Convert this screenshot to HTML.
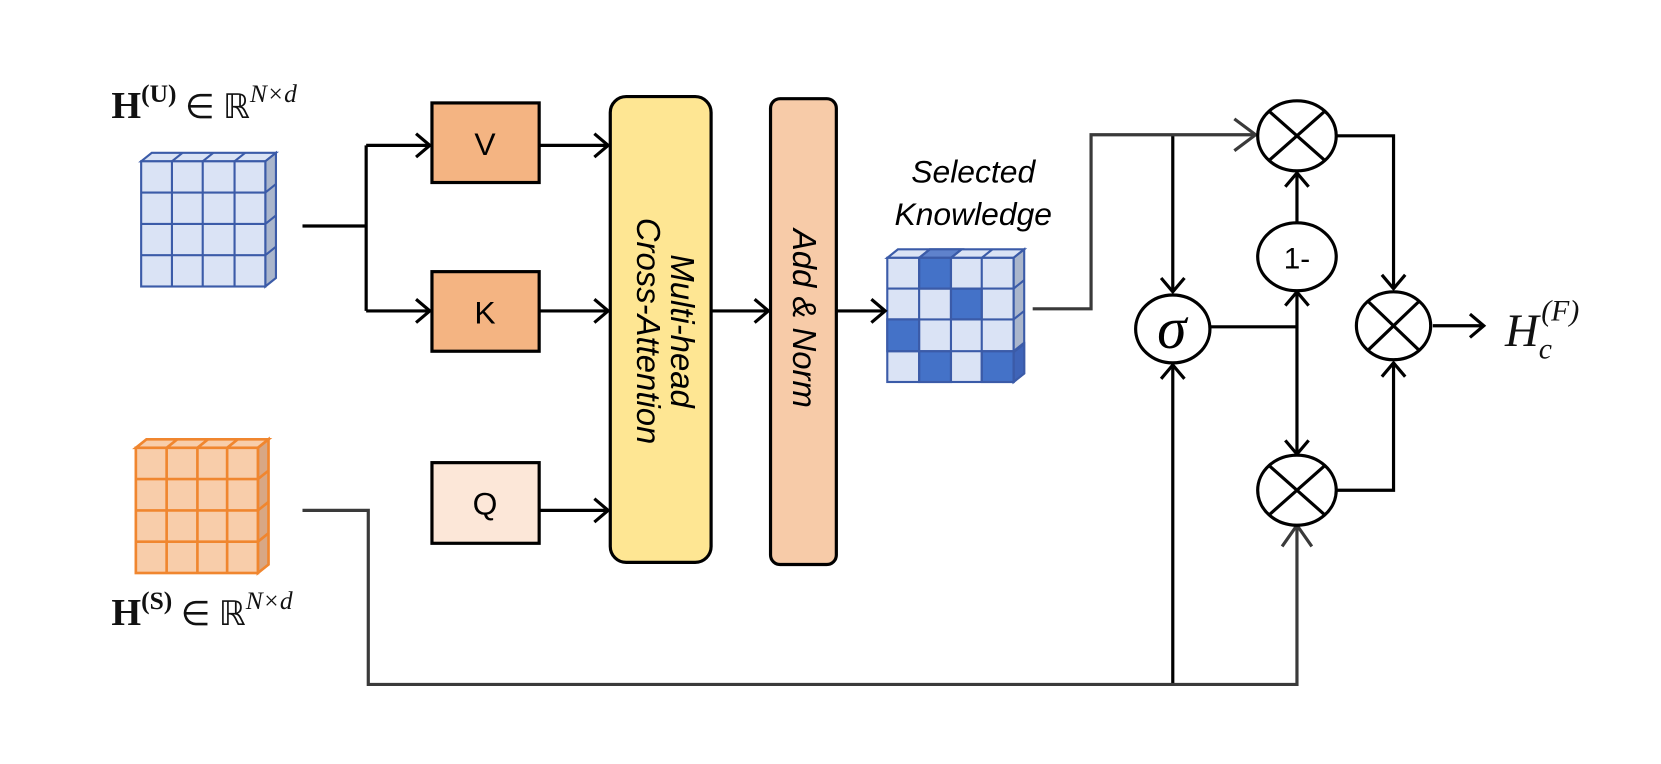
<!DOCTYPE html>
<html><head><meta charset="utf-8"><style>
html,body{margin:0;padding:0;background:#fff;}
svg{display:block}
</style></head><body>
<svg width="1661" height="764" viewBox="0 0 1565 720" preserveAspectRatio="none" xmlns="http://www.w3.org/2000/svg">
<!-- Blue cube -->
<g stroke="#3b5ba8" stroke-width="2" fill="#dae3f5">
<polygon points="133,152 143,144 260,144 250,152"/>
<polygon points="250,152 260,144 260,262 250,270" fill="#aab6cc"/>
<rect x="133" y="152" width="117" height="118"/>
<path d="M162,152V270M191,152V270M221,152V270M133,181.5H250M133,211H250M133,240.5H250M162,152l10,-8M191,152l10,-8M221,152l10,-8M250,181.5l10,-8M250,211l10,-8M250,240.5l10,-8" fill="none"/>
</g>
<!-- Orange cube -->
<g stroke="#f0862f" stroke-width="2.5" fill="#f8cdaa">
<polygon points="128,422 138,414 253,414 243,422"/>
<polygon points="243,422 253,414 253,532 243,540" fill="#d8a784"/>
<rect x="128" y="422" width="115" height="118"/>
<path d="M157,422V540M186,422V540M214,422V540M128,451.5H243M128,481H243M128,510.5H243M157,422l10,-8M186,422l10,-8M214,422l10,-8M243,451.5l10,-8M243,481l10,-8M243,510.5l10,-8" fill="none"/>
</g>
<!-- Knowledge cube -->
<g stroke="#3b5ba8" stroke-width="2" fill="#dae3f5">
<polygon points="836,243 846,235 965,235 955,243"/>
<polygon points="866,243 876,235 906,235 896,243" fill="#5f82cc"/>
<polygon points="955,243 965,235 965,352 955,360" fill="#aab6cc"/>
<polygon points="955,332 965,324 965,352 955,360" fill="#3f64b8"/>
<rect x="836" y="243" width="119" height="117"/>
<rect x="866" y="243" width="30" height="29" fill="#4472c8"/>
<rect x="896" y="272" width="29" height="29" fill="#4472c8"/>
<rect x="836" y="301" width="30" height="30" fill="#4472c8"/>
<rect x="866" y="331" width="30" height="29" fill="#4472c8"/>
<rect x="925" y="331" width="30" height="29" fill="#4472c8"/>
<path d="M866,243V360M896,243V360M925,243V360M836,272H955M836,301H955M836,331H955M866,243l10,-8M896,243l10,-8M925,243l10,-8M955,272l10,-8M955,301l10,-8M955,331l10,-8" fill="none"/>
</g>

<g font-family="Liberation Serif, serif" fill="#111">
<text x="105" y="111" font-size="36"><tspan font-weight="bold">H</tspan><tspan font-size="24" dy="-15" font-weight="bold">(U)</tspan><tspan dy="15" font-size="32"> ∈ ℝ</tspan><tspan font-size="24" dy="-15" font-style="italic">N×d</tspan></text>
<text x="105" y="589" font-size="36"><tspan font-weight="bold">H</tspan><tspan font-size="24" dy="-15" font-weight="bold">(S)</tspan><tspan dy="15" font-size="32"> ∈ ℝ</tspan><tspan font-size="24" dy="-15" font-style="italic">N×d</tspan></text>
<text x="1418" y="326" font-size="44" font-style="italic">H<tspan font-size="28" dy="12">c</tspan><tspan font-size="28" dx="-10" dy="-36">(F)</tspan></text>
</g>

<!-- Boxes -->
<g stroke="#000" stroke-width="3">
<rect x="407" y="97" width="101" height="75" fill="#f4b482"/>
<rect x="407" y="256" width="101" height="75" fill="#f4b482"/>
<rect x="407" y="436" width="101" height="76" fill="#fce7d8"/>
<rect x="575" y="91" width="95" height="439" rx="15" fill="#fee693"/>
<rect x="726" y="93" width="62" height="439" rx="9" fill="#f7cba8"/>
</g>
<g font-family="Liberation Sans, sans-serif" font-size="30" text-anchor="middle" fill="#000">
<text x="457" y="146">V</text>
<text x="457" y="305">K</text>
<text x="457" y="485">Q</text>
</g>
<g font-family="Liberation Sans, sans-serif" font-style="italic" text-anchor="middle" fill="#000">
<text transform="translate(622,312) rotate(90)" font-size="31"><tspan x="0" y="-10">Multi-head</tspan><tspan x="0" y="22">Cross-Attention</tspan></text>
<text transform="translate(757,300) rotate(90)" y="10" font-size="31">Add &amp; Norm</text>
<text x="917" y="172" font-size="30">Selected</text>
<text x="917" y="212" font-size="30">Knowledge</text>
</g>

<!-- Connectors -->
<g stroke="#000" stroke-width="3" fill="none">
<path d="M285,213H345M345,137V293M345,137H405M345,293H405"/>
<path d="M508,137H573M508,293H573M508,481H573M670,293H724M788,293H834"/>
<path d="M1105,127V275M1105,645V344M1138,308H1222M1222,308V275M1222,210V163M1222,308V428M1259,128H1313V272M1259,462H1313V342M1350,307H1398"/>
<path d="M392,126l13,11l-13,11M392,282l13,11l-13,11M560,126l13,11l-13,11M560,282l13,11l-13,11M560,470l13,11l-13,11M711,282l13,11l-13,11M821,282l13,11l-13,11"/>
<path d="M1094,262l11,13l11,-13M1094,357l11,-13l11,13M1211,288l11,-13l11,13M1211,176l11,-13l11,13M1211,415l11,13l11,-13M1302,259l11,13l11,-13M1302,355l11,-13l11,13M1385,296l13,11l-13,11"/>
</g>
<g stroke="#3a3a3a" stroke-width="3" fill="none">
<path d="M285,481H347V645H1222V495M973,291H1028V127H1183"/>
<path d="M1163,112l20,15l-20,15M1208,515l14,-20l14,20"/>
</g>

<!-- circles -->
<g stroke="#000" stroke-width="3" fill="#fff">
<ellipse cx="1222" cy="128" rx="37" ry="33"/>
<ellipse cx="1222" cy="242" rx="37" ry="32"/>
<ellipse cx="1105" cy="310" rx="35" ry="32"/>
<ellipse cx="1313" cy="307" rx="35" ry="32"/>
<ellipse cx="1222" cy="462" rx="37" ry="33"/>
<path d="M1196,105l52,46M1248,105l-52,46M1196,439l52,46M1248,439l-52,46M1289,284l48,46M1337,284l-48,46"/>
</g>
<text x="1222" y="253" font-family="Liberation Sans, sans-serif" font-size="28" text-anchor="middle">1-</text>
<text x="1104" y="328" font-family="Liberation Serif, serif" font-size="56" font-style="italic" text-anchor="middle">σ</text>
</svg>
</body></html>
